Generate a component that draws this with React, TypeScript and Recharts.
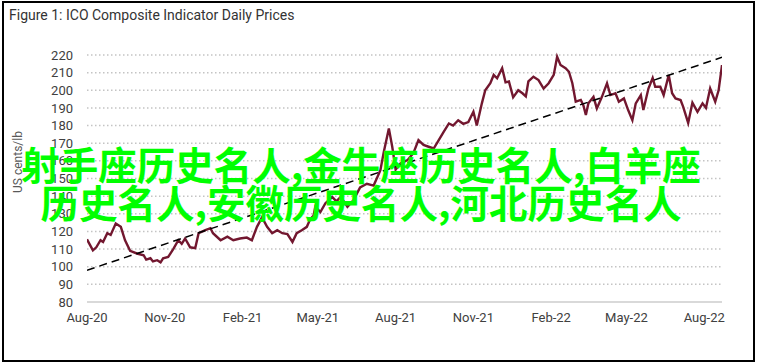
import React from "react"
import { LineChart, Line, XAxis, YAxis, CartesianGrid } from "recharts"

// days since 1 Aug 2020
const priceDays = [
  0, 7, 11, 16, 19, 24, 28, 34, 40, 45, 51, 59, 67, 70, 75, 78, 83, 87, 90, 96,
  102, 108, 112, 116, 122, 128, 132, 140, 146, 149, 158, 166, 173, 181, 189, 195, 201, 207, 213, 219,
  225, 231, 237, 243, 248, 254, 260, 264, 268, 270, 276, 282, 290, 295, 300, 308, 315, 323, 331, 339,
  347, 351, 357, 361, 365, 371, 379, 386, 392, 398, 404, 410, 416, 422, 428, 433, 439, 445, 451, 457,
  461, 467, 471, 477, 481, 485, 491, 495, 499, 504, 510, 515, 519, 522, 528, 534, 540, 546, 552, 556,
  560, 566, 570, 574, 578, 584, 587, 590, 593, 599, 603, 609, 615, 619, 625, 629, 635, 640, 645, 649,
  655, 658, 664, 669, 672, 678, 682, 688, 692, 696, 702, 705, 711, 716, 722, 728, 732, 737, 743, 747,
  751,
]
const prices = [
  115.5, 109.3, 111, 115, 114, 119, 118, 124.5, 122.6, 115, 109, 107.5, 106.5, 104, 104.8, 103, 103.7, 102.5, 104.8, 105.5,
  110, 115, 113, 116, 111, 110.5, 119, 120.7, 121.8, 119, 115, 117, 115, 116, 116.5, 115, 122.6, 128, 122.6, 119,
  120.7, 119, 118.5, 114, 119, 120.7, 122.6, 127, 129, 134, 131, 136, 139.6, 137, 139.6, 134, 137.7, 145, 147, 146,
  154.7, 165, 178.4, 168, 155, 158.6, 160.4, 164.4, 171.8, 169, 168, 167, 171.8, 176.5, 181.2, 180, 183, 181, 182, 187.8,
  180, 192.6, 200, 204, 208.7, 206.8, 212.5, 204.5, 205, 196, 200, 198.3, 196.5, 205, 207.7, 205.8, 201, 204, 208.7, 219,
  214.3, 212.5, 210.5, 204, 193.5, 194.5, 191.6, 186, 192.6, 196.3, 189.7, 196.3, 204, 197.3, 198.3, 193.5, 195.4, 188.8, 183.1, 192.6,
  197.3, 188.8, 201, 207, 202, 202, 197.3, 208.7, 198.3, 195.4, 194.5, 190.7, 181.5, 193, 187.8, 192.6, 190, 201, 193.5, 200,
  214.3,
]

const trendDays = [0, 751]
const trendValues = [98, 218.7]

const tickDays = [0, 92, 184, 273, 365, 457, 549, 638, 730]
const tickLabels = ["Aug-20", "Nov-20", "Feb-21", "May-21", "Aug-21", "Nov-21", "Feb-22", "May-22", "Aug-22"]
const yTicks = [80, 90, 100, 110, 120, 130, 140, 150, 160, 170, 180, 190, 200, 210, 220]

const priceData = priceDays.map((d, i) => ({ day: d, price: prices[i] }))
const trendData = trendDays.map((d, i) => ({ day: d, trend: trendValues[i] }))

const tickFont = { fill: "#404040", fontSize: 13, fontFamily: "Roboto, sans-serif" }

export default function App() {
  return (
    <div
      style={{
        position: "absolute",
        left: 0,
        top: 0,
        width: 757,
        height: 364,
        background: "#fff",
        overflow: "hidden",
      }}
    >
      <div
        style={{
          position: "absolute",
          left: 2,
          top: 1,
          width: 753,
          height: 361,
          boxSizing: "border-box",
          border: "2px solid #000",
        }}
      />
      <div
        style={{
          position: "absolute",
          left: 9,
          top: 7,
          fontSize: 14,
          lineHeight: "16px",
          color: "#333",
          fontFamily: "Roboto, sans-serif",
          whiteSpace: "nowrap",
        }}
      >
        Figure 1: ICO Composite Indicator Daily Prices
      </div>

      <LineChart width={757} height={364} margin={{ top: 55, right: 35, bottom: 32, left: 0 }}>
        <CartesianGrid
          vertical={false}
          stroke="#c4c4c4"
          strokeWidth={1.5}
          strokeDasharray="1.5 2.5"
        />
        <XAxis
          dataKey="day"
          type="number"
          domain={[0, 751]}
          ticks={tickDays}
          interval={0}
          tickFormatter={(v: number) => tickLabels[tickDays.indexOf(v)]}
          tick={tickFont}
          tickLine={false}
          tickSize={6}
          tickMargin={5}
          height={30}
          axisLine={{ stroke: "#d9d9d9", strokeWidth: 2 }}
          allowDataOverflow
        />
        <YAxis
          type="number"
          domain={[80, 220]}
          ticks={yTicks}
          interval={0}
          width={87}
          tick={tickFont}
          tickLine={false}
          tickSize={6}
          tickMargin={8}
          axisLine={false}
          label={{
            content: () => (
              <text
                x={0}
                y={0}
                transform="translate(22 162) rotate(-90)"
                textAnchor="middle"
                fill="#595959"
                fontSize={12}
                fontFamily="Roboto, sans-serif"
              >
                US cents/lb
              </text>
            ),
          }}
        />
        <Line
          data={priceData}
          dataKey="price"
          stroke="#72172f"
          strokeWidth={2.4}
          dot={false}
          isAnimationActive={false}
        />
        <Line
          data={trendData}
          dataKey="trend"
          stroke="#000"
          strokeWidth={1.5}
          strokeDasharray="8 5"
          dot={false}
          isAnimationActive={false}
        />
      </LineChart>

      <div
        style={{
          position: "absolute",
          left: -4,
          top: 144,
          width: 730,
          textAlign: "center",
          color: "#00ff00",
          fontSize: 38.5,
          lineHeight: "38px",
          fontWeight: 700,
          fontFamily: "'Noto Sans CJK SC', sans-serif",
          whiteSpace: "nowrap",
        }}
      >
        <div>射手座历史名人,金牛座历史名人,白羊座</div>
        <div>历史名人,安徽历史名人,河北历史名人</div>
      </div>
    </div>
  )
}
